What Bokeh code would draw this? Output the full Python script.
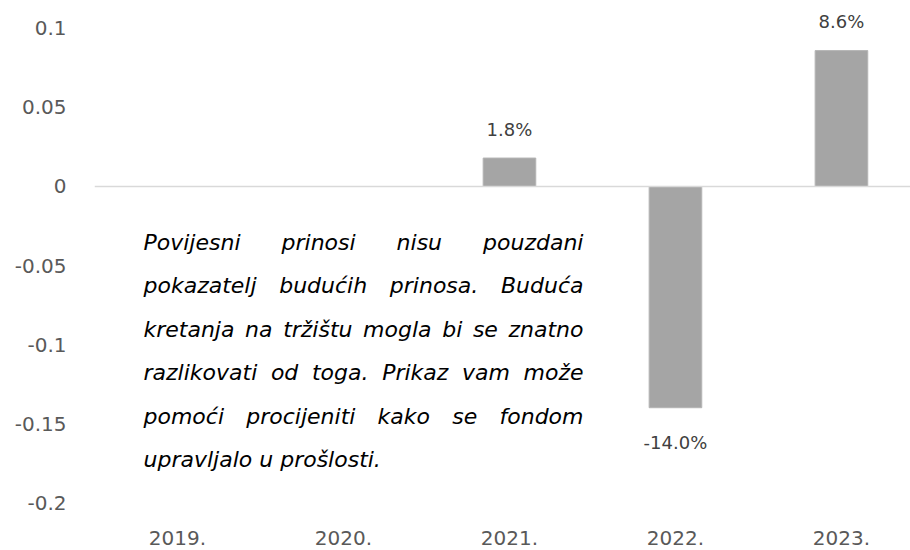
from bokeh.plotting import figure
from bokeh.models import Range1d, FixedTicker, Span, Label, ColumnDataSource
from bokeh.embed import file_html
from bokeh.resources import INLINE
from bokeh.core.properties import value

# ---- data ----
years = ["2019.", "2020.", "2021.", "2022.", "2023."]
returns = [None, None, 0.018, -0.140, 0.086]
return_labels = ["", "", "1.8%", "-14.0%", "8.6%"]
y_ticks = [-0.2, -0.15, -0.1, -0.05, 0, 0.05, 0.1]
y_tick_labels = ["-0.2", "-0.15", "-0.1", "-0.05", "0", "0.05", "0.1"]

note_lines = [
    "Povijesni prinosi nisu pouzdani",
    "pokazatelj budućih prinosa. Buduća",
    "kretanja na tržištu mogla bi se znatno",
    "razlikovati od toga. Prikaz vam može",
    "pomoći procijeniti kako se fondom",
    "upravljalo u prošlosti.",
]

# ---- layout ----
FIG_W, FIG_H = 910, 550
FRAME_L, FRAME_T, FRAME_B_BORDER = 94, 0, 38
FRAME_BOTTOM = FIG_H - FRAME_B_BORDER
FONT = "DejaVu Sans"
NOTE_SIZE = 22
note_line_y = [243, 286, 330, 373, 417, 460]
note_left, note_right = 143, 583

# approximate DejaVu Sans advance widths (em) used to justify the note
ADV = {" ": .318, "a": .613, "b": .635, "c": .550, "ć": .550, "d": .635, "e": .615,
       "f": .352, "g": .635, "h": .634, "i": .278, "j": .278, "k": .579, "l": .278,
       "m": .974, "n": .634, "o": .612, "p": .635, "r": .411, "s": .521, "š": .521,
       "t": .392, "u": .634, "v": .592, "z": .525, "ž": .525, "P": .603, "B": .686,
       ".": .318}

def text_w(s):
    return sum(ADV.get(ch, .6) for ch in s) * NOTE_SIZE

xs = [i for i, v in enumerate(returns) if v is not None]
vals = [v for v in returns if v is not None]
labs = [return_labels[i] for i in xs]
offs = [-29 if v >= 0 else 35 for v in vals]
src = ColumnDataSource(dict(x=xs, top=vals, label=labs, off=offs))

p = figure(width=FIG_W, height=FIG_H, output_backend="svg", toolbar_location=None,
           x_range=Range1d(-0.5, 4.416), y_range=Range1d(-0.2063, 0.1177),
           min_border_left=FRAME_L, min_border_right=0, min_border_top=FRAME_T,
           min_border_bottom=FRAME_B_BORDER)
p.outline_line_color = None
p.xgrid.visible = False
p.ygrid.visible = False

p.add_layout(Span(location=0, dimension="width", line_color="#D9D9D9", line_width=1.5))

p.vbar(x="x", top="top", bottom=0, width=0.317, source=src,
       fill_color="#A5A5A5", line_color="#B4B4B4", line_width=1)

p.text(x="x", y="top", text="label", source=src, y_offset="off",
       text_align="center", text_baseline="middle",
       text_font=value(FONT), text_font_size="18px", text_color="#404040")

# axes
p.xaxis.ticker = FixedTicker(ticks=list(range(len(years))))
p.xaxis.major_label_overrides = {i: y for i, y in enumerate(years)}
p.yaxis.ticker = FixedTicker(ticks=y_ticks)
p.yaxis.major_label_overrides = {t: l for t, l in zip(y_ticks, y_tick_labels)}
for ax in (p.xaxis[0], p.yaxis[0]):
    ax.axis_line_color = None
    ax.major_tick_line_color = None
    ax.minor_tick_line_color = None
    ax.major_tick_out = 0
    ax.major_tick_in = 0
    ax.major_label_text_font = FONT
    ax.major_label_text_font_size = "20px"
    ax.major_label_text_color = "#595959"
p.yaxis.major_label_standoff = 28
p.xaxis.major_label_standoff = 18

# note text, justified (last line left-aligned); screen coords relative to frame
def note_label(text, page_x, page_y):
    return Label(x=page_x - FRAME_L, y=FRAME_BOTTOM - page_y + 1,
                 x_units="screen", y_units="screen",
                 text=text, text_align="left", text_baseline="middle",
                 text_font=FONT, text_font_style="italic",
                 text_font_size=f"{NOTE_SIZE}px", text_color="#000000")

for i, (line, py) in enumerate(zip(note_lines, note_line_y)):
    if i == len(note_lines) - 1:
        p.add_layout(note_label(line, note_left, py))
        continue
    words = line.split(" ")
    total = sum(text_w(w) for w in words)
    gap = (note_right - note_left - total) / (len(words) - 1)
    x = note_left
    for w in words:
        p.add_layout(note_label(w, x, py))
        x += text_w(w) + gap

open("out.html", "w").write(file_html(p, INLINE))
